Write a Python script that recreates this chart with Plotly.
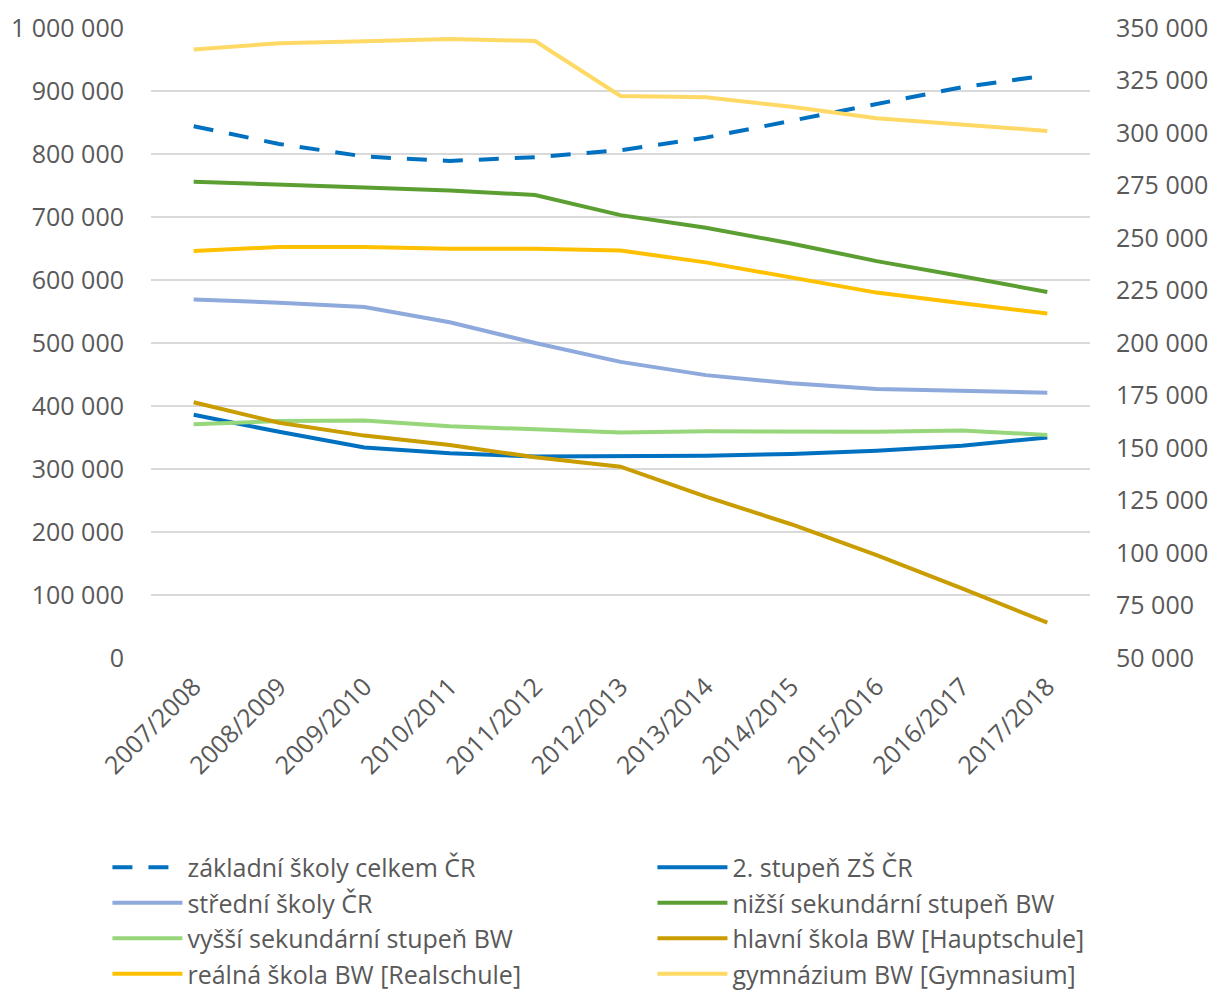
import plotly.graph_objects as go

# School years on the category axis
years = ["2007/2008", "2008/2009", "2009/2010", "2010/2011", "2011/2012", "2012/2013",
         "2013/2014", "2014/2015", "2015/2016", "2016/2017", "2017/2018"]

# Pupil counts, left axis
zs_celkem_cr = [844000, 816000, 796000, 789000, 795000, 806000, 826000, 853000, 879000, 906000, 925000]
zs_2_stupen_cr = [386000, 359000, 334000, 325000, 320000, 320000, 321000, 324000, 329000, 337000, 350000]
stredni_skoly_cr = [569000, 564000, 557000, 533000, 500000, 470000, 449000, 436000, 427000, 424000, 421000]
nizsi_sek_bw = [756000, 752000, 747000, 742000, 735000, 703000, 683000, 658000, 630000, 606000, 581000]
vyssi_sek_bw = [371000, 376000, 377000, 368000, 363000, 358000, 360000, 359000, 359000, 361000, 354000]

# Pupil counts, right axis
hauptschule_bw = [171800, 162000, 155900, 151400, 145600, 141100, 126800, 113700, 99000, 83200, 66800]
realschule_bw = [243800, 245700, 245700, 244900, 244900, 244000, 238400, 231100, 224000, 218900, 214000]
gymnasium_bw = [339800, 342700, 343700, 344800, 343800, 317600, 317000, 312500, 307000, 303800, 301000]

FONT = "Open Sans"
TXT = "#595959"
GRID = "#D9D9D9"

# name, values, colour, y axis, dash, legend column
series = [
    ("základní školy celkem ČR", zs_celkem_cr, "#0070C0", "y", "20px,16px", "legend"),
    ("2. stupeň ZŠ ČR", zs_2_stupen_cr, "#0070C0", "y", "solid", "legend2"),
    ("střední školy ČR", stredni_skoly_cr, "#8EA9DB", "y", "solid", "legend"),
    ("nižší sekundární stupeň BW", nizsi_sek_bw, "#5B9F32", "y", "solid", "legend2"),
    ("vyšší sekundární stupeň BW", vyssi_sek_bw, "#97D67A", "y", "solid", "legend"),
    ("hlavní škola BW [Hauptschule]", hauptschule_bw, "#C99C00", "y2", "solid", "legend2"),
    ("reálná škola BW [Realschule]", realschule_bw, "#FFC000", "y2", "solid", "legend"),
    ("gymnázium BW [Gymnasium]", gymnasium_bw, "#FFD966", "y2", "solid", "legend2"),
]

fig = go.Figure()
for name, vals, color, axis, dash, leg in series:
    fig.add_trace(go.Scatter(
        x=years, y=vals, name=name, yaxis=axis, mode="lines", legend=leg,
        line=dict(color=color, width=4, dash=dash),
    ))

legend_style = dict(
    orientation="v", xref="container", yref="container",
    xanchor="left", yanchor="top", itemwidth=70,
    font=dict(family=FONT, size=25, color=TXT),
    tracegroupgap=0, traceorder="normal", bgcolor="rgba(0,0,0,0)",
)

fig.update_layout(
    width=1214, height=996,
    margin=dict(l=151, r=124, t=28, b=338, autoexpand=False),
    paper_bgcolor="white", plot_bgcolor="white",
    separators=", ",
    font=dict(family=FONT, color=TXT, size=24),
    showlegend=True,
    legend=dict(x=0.0885, y=0.152, **legend_style),
    legend2=dict(x=0.0885 + 545 / 1214, y=0.152, **legend_style),
    xaxis=dict(
        type="category", range=[-0.5, 10.5], tickangle=-45, automargin=False,
        showgrid=False, showline=False, zeroline=False,
        ticks="outside", ticklen=3, tickcolor="rgba(0,0,0,0)",
        tickfont=dict(family=FONT, size=25, color=TXT),
    ),
    yaxis=dict(
        range=[0, 1000000], tickvals=list(range(0, 1000001, 100000)),
        tickformat=",d", showgrid=True, gridcolor=GRID, gridwidth=1.5,
        zeroline=False, showline=False, automargin=False,
        ticks="outside", ticklen=21, tickcolor="rgba(0,0,0,0)",
        tickfont=dict(family=FONT, size=25, color=TXT),
    ),
    yaxis2=dict(
        overlaying="y", side="right", automargin=False,
        range=[50000, 350000], tickvals=list(range(50000, 350001, 25000)),
        tickformat=",d", showgrid=False, zeroline=False, showline=False,
        ticks="outside", ticklen=20, tickcolor="rgba(0,0,0,0)",
        tickfont=dict(family=FONT, size=25, color=TXT),
    ),
)

fig.write_html("out.html")
